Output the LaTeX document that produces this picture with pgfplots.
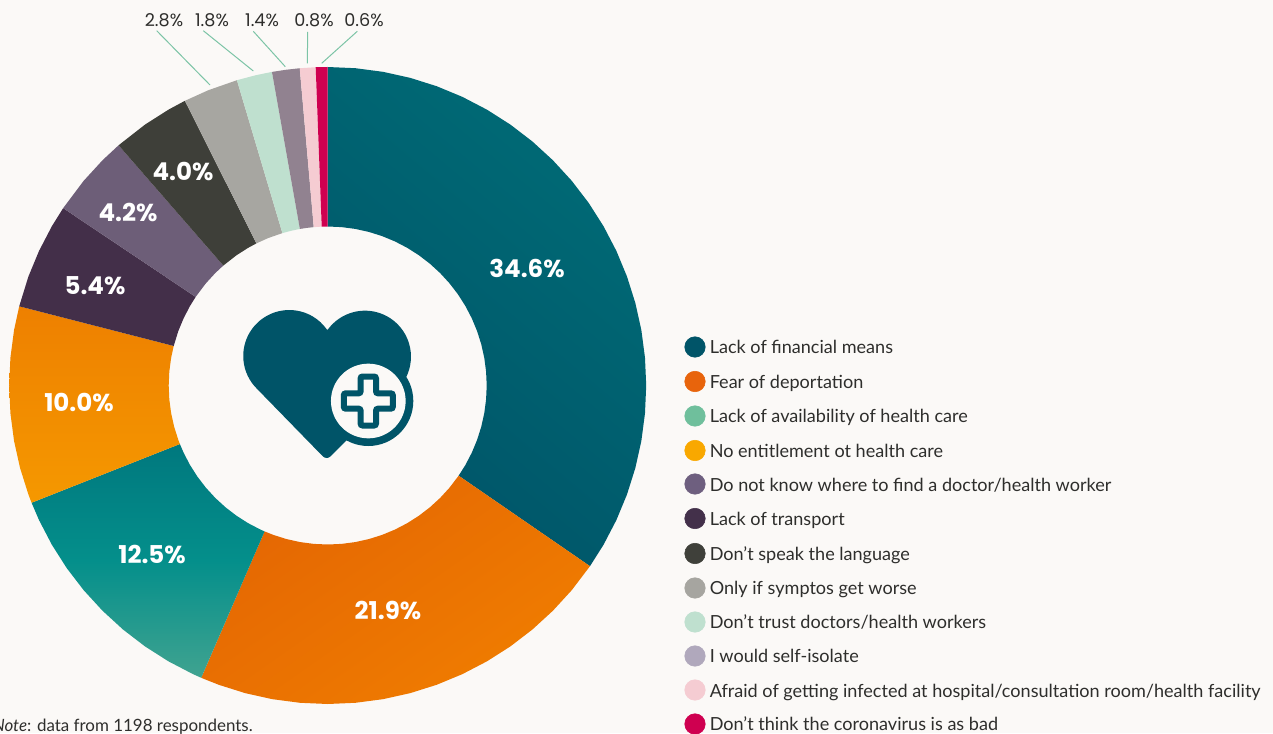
\documentclass[border=0pt]{standalone}
\usepackage{pgfplots}
\pgfplotsset{compat=1.18}
\usepackage{fontspec}
\setmainfont{Lato}
\newfontfamily\pop{Poppins}
\definecolor{bgc}{HTML}{FBF9F7}
\definecolor{txt}{HTML}{2E2E2C}
\definecolor{lead}{HTML}{7CC4A6}
\definecolor{heart}{HTML}{005468}
\begin{document}
\begin{tikzpicture}
\path[use as bounding box,clip] (0,0) rectangle (954.75pt,549.75pt);
\fill[bgc] (0,0) rectangle (954.75pt,549.75pt);
\begin{axis}[anchor=south west,at={(0pt,0pt)},scale only axis,width=954.75pt,height=549.75pt,
  hide axis,xmin=-327.7,xmax=945.3,ymin=-347.5,ymax=385.5,data cs=polar]
% Lack of financial means 34.6
\addplot[draw=none,top color={rgb,255:red,0;green,107;blue,118},bottom color={rgb,255:red,0;green,84;blue,104},shading angle=-40] coordinates {
(90,318.5)(85,318.5)(80,318.5)(75,318.5)(70,318.5)(65,318.5)(60,318.5)(55,318.5)(50,318.5)(45,318.5)(40,318.5)(35,318.5)(30,318.5)(25,318.5)(20,318.5)(15,318.5)(10,318.5)(5,318.5)(0,318.5)(-5,318.5)(-10,318.5)(-15,318.5)(-20,318.5)(-25,318.5)(-30,318.5)(-34.56,318.5)
(-34.56,159)(-30,159)(-25,159)(-20,159)(-15,159)(-10,159)(-5,159)(0,159)(5,159)(10,159)(15,159)(20,159)(25,159)(30,159)(35,159)(40,159)(45,159)(50,159)(55,159)(60,159)(65,159)(70,159)(75,159)(80,159)(85,159)(90,159)} --cycle;
% Fear of deportation 21.9
\addplot[draw=none,top color={rgb,255:red,228;green,102;blue,3},bottom color={rgb,255:red,240;green,125;blue,0},shading angle=35] coordinates {
(-34.56,318.5)(-40,318.5)(-45,318.5)(-50,318.5)(-55,318.5)(-60,318.5)(-65,318.5)(-70,318.5)(-75,318.5)(-80,318.5)(-85,318.5)(-90,318.5)(-95,318.5)(-100,318.5)(-105,318.5)(-110,318.5)(-113.4,318.5)
(-113.4,159)(-110,159)(-105,159)(-100,159)(-95,159)(-90,159)(-85,159)(-80,159)(-75,159)(-70,159)(-65,159)(-60,159)(-55,159)(-50,159)(-45,159)(-40,159)(-34.56,159)} --cycle;
% Lack of availability 12.5
\addplot[draw=none,top color={rgb,255:red,0;green,120;blue,126},bottom color={rgb,255:red,64;green,163;blue,144},middle color={rgb,255:red,4;green,143;blue,139}] coordinates {
(-113.4,318.5)(-115,318.5)(-120,318.5)(-125,318.5)(-130,318.5)(-135,318.5)(-140,318.5)(-145,318.5)(-150,318.5)(-155,318.5)(-158.4,318.5)
(-158.4,159)(-155,159)(-150,159)(-145,159)(-140,159)(-135,159)(-130,159)(-125,159)(-120,159)(-115,159)(-113.4,159)} --cycle;
% No entitlement 10.0
\addplot[draw=none,top color={rgb,255:red,238;green,128;blue,0},bottom color={rgb,255:red,245;green,152;blue,0}] coordinates {
(-158.4,318.5)(-160,318.5)(-165,318.5)(-170,318.5)(-175,318.5)(-180,318.5)(-185,318.5)(-190,318.5)(-194.4,318.5)
(-194.4,159)(-190,159)(-185,159)(-180,159)(-175,159)(-170,159)(-165,159)(-160,159)(-158.4,159)} --cycle;
% 5.4
\addplot[draw=none,fill={rgb,255:red,67;green,47;blue,73}] coordinates {
(-194.4,318.5)(-200,318.5)(-205,318.5)(-210,318.5)(-213.84,318.5)
(-213.84,159)(-210,159)(-205,159)(-200,159)(-194.4,159)} --cycle;
% 4.2
\addplot[draw=none,fill={rgb,255:red,109;green,94;blue,120}] coordinates {
(-213.84,318.5)(-220,318.5)(-225,318.5)(-228.96,318.5)
(-228.96,159)(-225,159)(-220,159)(-213.84,159)} --cycle;
% 4.0
\addplot[draw=none,fill={rgb,255:red,62;green,63;blue,57}] coordinates {
(-228.96,318.5)(-235,318.5)(-240,318.5)(-243.36,318.5)
(-243.36,159)(-240,159)(-235,159)(-228.96,159)} --cycle;
% 2.8
\addplot[draw=none,fill={rgb,255:red,167;green,166;blue,161}] coordinates {
(-243.36,318.5)(-248,318.5)(-253.44,318.5)
(-253.44,159)(-248,159)(-243.36,159)} --cycle;
% 1.8
\addplot[draw=none,fill={rgb,255:red,191;green,224;blue,207}] coordinates {
(-253.44,318.5)(-257,318.5)(-259.92,318.5)
(-259.92,159)(-257,159)(-253.44,159)} --cycle;
% 1.4
\addplot[draw=none,fill={rgb,255:red,145;green,130;blue,144}] coordinates {
(-259.92,318.5)(-262.5,318.5)(-264.96,318.5)
(-264.96,159)(-262.5,159)(-259.92,159)} --cycle;
% 0.8
\addplot[draw=none,fill={rgb,255:red,245;green,204;blue,210}] coordinates {
(-264.96,318.5)(-267.84,318.5)
(-267.84,159)(-264.96,159)} --cycle;
% 0.6
\addplot[draw=none,fill={rgb,255:red,207;green,0;blue,80}] coordinates {
(-267.84,318.5)(-270,318.5)
(-270,159)(-267.84,159)} --cycle;
% leaders
\addplot[lead,line width=.75pt,data cs=cart] coordinates {(-171,354.8)(-117.7,300.5)};
\addplot[lead,line width=.75pt,data cs=cart] coordinates {(-124.4,354.8)(-74.4,314.5)};
\addplot[lead,line width=.75pt,data cs=cart] coordinates {(-74.4,354.2)(-42.4,318.8)};
\addplot[lead,line width=.75pt,data cs=cart] coordinates {(-20,353.5)(-20.4,322.2)};
\addplot[lead,line width=.75pt,data cs=cart] coordinates {(29.6,354.2)(-6,322.2)};
% legend circles
\addplot[only marks,data cs=cart,mark=*,mark size=7.7pt,color={rgb,255:red,0;green,84;blue,104}] coordinates {(367.3,38.5)};
\addplot[only marks,data cs=cart,mark=*,mark size=7.7pt,color={rgb,255:red,232;green,100;blue,12}] coordinates {(367.3,4)};
\addplot[only marks,data cs=cart,mark=*,mark size=7.7pt,color={rgb,255:red,111;green,191;blue,156}] coordinates {(367.3,-30.5)};
\addplot[only marks,data cs=cart,mark=*,mark size=7.7pt,color={rgb,255:red,249;green,168;blue,0}] coordinates {(367.3,-65)};
\addplot[only marks,data cs=cart,mark=*,mark size=7.7pt,color={rgb,255:red,110;green,95;blue,127}] coordinates {(367.3,-98.5)};
\addplot[only marks,data cs=cart,mark=*,mark size=7.7pt,color={rgb,255:red,67;green,48;blue,74}] coordinates {(367.3,-133)};
\addplot[only marks,data cs=cart,mark=*,mark size=7.7pt,color={rgb,255:red,63;green,64;blue,58}] coordinates {(367.3,-168)};
\addplot[only marks,data cs=cart,mark=*,mark size=7.7pt,color={rgb,255:red,166;green,165;blue,160}] coordinates {(367.3,-202.5)};
\addplot[only marks,data cs=cart,mark=*,mark size=7.7pt,color={rgb,255:red,191;green,224;blue,207}] coordinates {(367.3,-236.5)};
\addplot[only marks,data cs=cart,mark=*,mark size=7.7pt,color={rgb,255:red,176;green,168;blue,188}] coordinates {(367.3,-270.5)};
\addplot[only marks,data cs=cart,mark=*,mark size=7.7pt,color={rgb,255:red,245;green,204;blue,210}] coordinates {(367.3,-304.5)};
\addplot[only marks,data cs=cart,mark=*,mark size=7.7pt,color={rgb,255:red,207;green,0;blue,80}] coordinates {(367.3,-338.5)};
\end{axis}
\begin{scope}[yshift=549.75pt,x=.75pt,y=-.75pt]
% icon
\fill[heart] (326.7,329.3) arc (35.5:225:34.5pt) -- (322.7,456.2) .. controls (325,458.6) and (328.4,458.6) .. (330.7,456.2) -- (397.5,389.2) arc (-45:144.5:34.5pt) -- cycle;
\fill[heart] (368.3,401) circle (33.75pt);
\fill[bgc] (368.3,401) circle (28pt);
\draw[heart,line width=4.5pt,rounded corners=1.5pt,fill=bgc] (360.6,376.5) -- (376,376.5) -- (376,393.3) -- (392.8,393.3) -- (392.8,408.7) -- (376,408.7) -- (376,425.5) -- (360.6,425.5) -- (360.6,408.7) -- (343.8,408.7) -- (343.8,393.3) -- (360.6,393.3) -- cycle;
% big labels
\tikzset{big/.style={text=white,font=\pop\bfseries\fontsize{18.4}{20}\selectfont,inner sep=0pt}}
\node[big] at (527,268.5) {34.6\%};
\node[big] at (388,610.5) {21.9\%};
\node[big] at (152,554.5) {12.5\%};
\node[big] at (79,402.5) {10.0\%};
\node[big] at (95,285.5) {5.4\%};
\node[big] at (128,212.5) {4.2\%};
\node[big] at (183,171.5) {4.0\%};
% small labels
\tikzset{sm/.style={text=txt,font=\pop\fontsize{13.2}{15}\selectfont,inner sep=0pt}}
\node[sm] at (164,20.5) {2.8\%};
\node[sm] at (212,20.5) {1.8\%};
\node[sm] at (262,20.5) {1.4\%};
\node[sm] at (314,20.5) {0.8\%};
\node[sm] at (364,20.5) {0.6\%};
% legend text
\tikzset{lg/.style={text=txt,font=\fontsize{13.55}{15}\selectfont,inner sep=0pt,anchor=base west}}
\node[lg] at (709.5,353.5) {Lack of financial means};
\node[lg] at (709.5,388) {Fear of deportation};
\node[lg] at (709.5,422.5) {Lack of availability of health care};
\node[lg] at (709.5,457) {No entitlement ot health care};
\node[lg] at (709.5,491) {Do not know where to find a doctor/health worker};
\node[lg] at (709.5,525) {Lack of transport};
\node[lg] at (709.5,560) {Don’t speak the language};
\node[lg] at (709.5,594) {Only if symptos get worse};
\node[lg] at (709.5,628) {Don’t trust doctors/health workers};
\node[lg] at (709.5,662) {I would self-isolate};
\node[lg] at (709.5,697) {Afraid of getting infected at hospital/consultation room/health facility};
\node[lg] at (709.5,730.5) {Don’t think the coronavirus is as bad};
\node[lg,anchor=base east,font=\fontsize{12.7}{15}\selectfont] at (253,731) {\textit{Note}: data from 1198 respondents.};
\end{scope}
\end{tikzpicture}
\end{document}
